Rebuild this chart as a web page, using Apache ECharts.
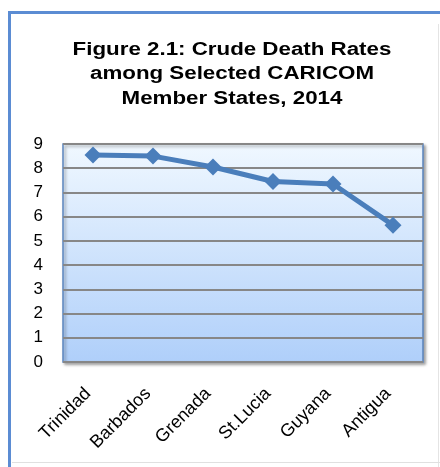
<!DOCTYPE html>
<html>
<head>
<meta charset="utf-8">
<script src="https://cdn.jsdelivr.net/npm/echarts@6/dist/echarts.min.js"></script>
<style>
html,body{margin:0;padding:0;background:#fff;}
#c{width:440px;height:467px;}
</style>
</head>
<body>
<div id="c"></div>
<script>
var titleText = 'Figure 2.1: Crude Death Rates\namong Selected CARICOM\nMember States, 2014';
var categories = ['Trinidad', 'Barbados', 'Grenada', 'St.Lucia', 'Guyana', 'Antigua'];
var deathRates = [8.55, 8.5, 8.05, 7.45, 7.35, 5.65];
var yTicks = {min: 0, max: 9, interval: 1};

var FONT = '"Liberation Sans", Arial, sans-serif';
var chart = echarts.init(document.getElementById('c'), null, {renderer: 'canvas'});
chart.setOption({
  animation: false,
  backgroundColor: '#ffffff',
  textStyle: {fontFamily: FONT},
  graphic: [
    {type: 'rect', z: -10, shape: {x: 9.5, y: 12.5, width: 460, height: 480},
     style: {fill: '#ffffff', stroke: '#5b8cd3', lineWidth: 3}},
    {type: 'line', z: -9, shape: {x1: 438.5, y1: 24, x2: 438.5, y2: 467},
     style: {stroke: '#e4e4e4', lineWidth: 1}},
    {type: 'line', z: -9, shape: {x1: 12, y1: 462.5, x2: 440, y2: 462.5},
     style: {stroke: '#e0e0e0', lineWidth: 1}},
    {type: 'text', z: 10, x: 232, y: 37.5, scaleX: 1.24, scaleY: 1,
     style: {text: titleText, align: 'center', verticalAlign: 'top',
       fontSize: 18, fontWeight: 'bold', fontFamily: FONT, fill: '#000', lineHeight: 24.5}}
  ],
  grid: {
    left: 63, right: 17, top: 144, bottom: 105,
    show: true,
    borderColor: '#5b85bf',
    borderWidth: 1.5,
    shadowColor: 'rgba(0,0,0,0.35)',
    shadowBlur: 3,
    shadowOffsetX: 2,
    shadowOffsetY: 2,
    backgroundColor: {
      type: 'linear', x: 0, y: 0, x2: 0, y2: 1,
      colorStops: [{offset: 0, color: '#f0f8ff'}, {offset: 1, color: '#afcffa'}]
    }
  },
  xAxis: {
    type: 'category',
    data: categories,
    boundaryGap: true,
    axisLine: {show: false},
    axisTick: {show: false},
    axisLabel: {rotate: 45, fontSize: 18, color: '#000', margin: 24, interval: 0,
      padding: [0, 7, 0, 0], fontFamily: FONT}
  },
  yAxis: {
    type: 'value',
    min: yTicks.min, max: yTicks.max, interval: yTicks.interval,
    axisLine: {show: false},
    axisTick: {show: false},
    axisLabel: {fontSize: 17, color: '#000', margin: 20, fontFamily: FONT},
    splitLine: {show: true, lineStyle: {color: '#878787', width: 2}}
  },
  series: [{
    type: 'line',
    data: deathRates,
    symbol: 'diamond',
    symbolSize: 17,
    lineStyle: {color: '#4a7ebb', width: 5},
    itemStyle: {color: '#4a7ebb'},
    z: 5
  }]
});
</script>
</body>
</html>
